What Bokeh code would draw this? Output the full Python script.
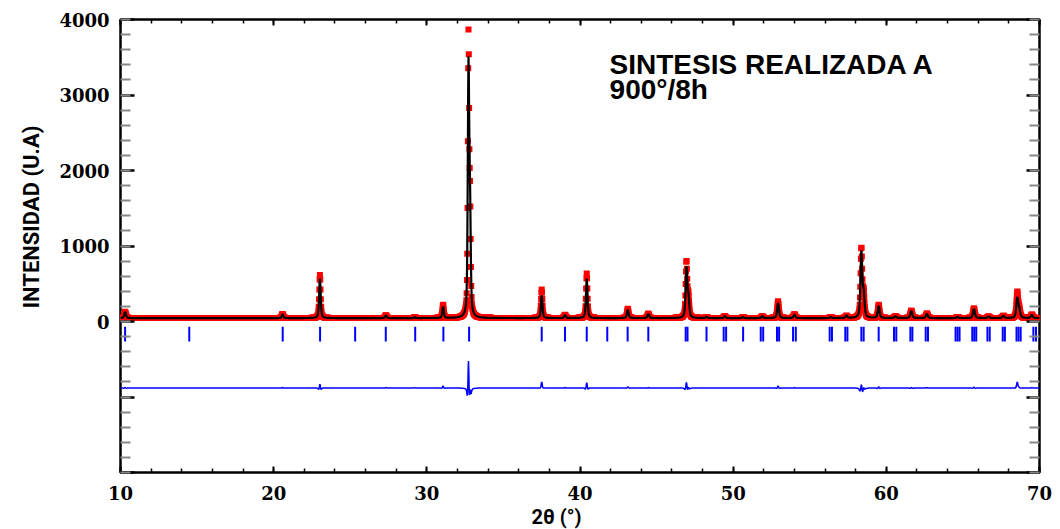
import numpy as np
from bokeh.plotting import figure
from bokeh.models import LinearAxis, FixedTicker, Range1d, ColumnDataSource, Title
from bokeh.embed import file_html
from bokeh.resources import INLINE
from bokeh.core.properties import value

# ---------------- data ----------------
# reflections of the refined profile: position (2theta), calculated and observed
# intensity above background, and peak width (FWHM, degrees)
peak_2theta = [10.30, 20.58, 23.02, 27.33, 29.22, 31.06, 32.72, 32.82, 37.50, 39.02,
               40.44, 43.12, 44.46, 46.95, 47.08, 48.26, 49.45, 50.65, 51.90, 52.93,
               54.00, 56.38, 57.40, 58.37, 58.52, 59.50, 60.60, 61.63, 62.65, 64.65,
               65.72, 66.67, 67.65, 68.55, 68.68, 69.50]
peak_calc = [80, 50, 520, 35, 10, 150, 3250, 1300, 300, 40,
             520, 110, 55, 660, 250, 15, 25, 15, 25, 200,
             45, 15, 30, 870, 300, 160, 25, 95, 55, 15,
             120, 20, 30, 260, 100, 40]
peak_obs = [85, 55, 570, 40, 12, 175, 3650, 1350, 380, 45,
            590, 125, 60, 740, 270, 15, 25, 15, 25, 225,
            50, 15, 30, 920, 320, 175, 25, 100, 60, 15,
            130, 20, 30, 340, 110, 45]
peak_fwhm = [0.14, 0.12, 0.12, 0.12, 0.12, 0.12, 0.11, 0.11, 0.12, 0.12,
             0.12, 0.13, 0.13, 0.13, 0.13, 0.13, 0.13, 0.13, 0.13, 0.14,
             0.14, 0.14, 0.14, 0.14, 0.14, 0.14, 0.15, 0.15, 0.15, 0.15,
             0.15, 0.15, 0.15, 0.15, 0.15, 0.15]
obs_width_ratio = 0.9
background = 45
step = 0.02
two_theta_start, two_theta_end = 10.0, 70.0

# Bragg reflection positions (2theta)
bragg_2theta = [10.30, 14.49, 20.59, 23.03, 25.32, 27.32, 29.24, 31.08, 32.76, 37.50,
                39.02, 40.44, 41.78, 43.11, 44.46, 46.90, 47.02, 48.26, 49.38, 49.54,
                50.65, 51.80, 51.96, 52.86, 53.00, 53.91, 54.09, 56.30, 56.45, 57.32,
                57.46, 58.37, 58.52, 59.50, 60.50, 60.65, 61.57, 61.70, 62.57, 62.72,
                64.52, 64.65, 64.78, 65.61, 65.74, 65.87, 66.60, 66.75, 67.60, 67.74,
                68.50, 68.63, 68.77, 69.60, 69.77]

diff_offset = -880

y_major = [-2000, -1000, 0, 1000, 2000, 3000, 4000]
y_minor = list(range(-2000, 4001, 200))
x_major = [10, 20, 30, 40, 50, 60, 70]
x_minor = list(range(10, 71, 2))

title_lines = ["SINTESIS REALIZADA A", "900°/8h"]
y_title = "INTENSIDAD (U.A)"
x_title = "2θ (°)"

# ---------------- profile ----------------
x = np.arange(two_theta_start, two_theta_end + 1e-6, step)


def profile(heights, ratio):
    y = np.full_like(x, float(background))
    for c, h, w in zip(peak_2theta, heights, peak_fwhm):
        d = (x - c) / (w * ratio)
        lor = 1.0 / (1.0 + 4.0 * d * d)
        gau = np.exp(-4.0 * np.log(2.0) * d * d)
        y += h * (0.5 * lor + 0.5 * gau)
    return y


y_calc = profile(peak_calc, 1.0)
y_obs = profile(peak_obs, obs_width_ratio)
y_diff = y_obs - y_calc + diff_offset

src = ColumnDataSource(dict(x=x, obs=y_obs, calc=y_calc, diff=y_diff))
bragg_src = ColumnDataSource(dict(x=bragg_2theta,
                                  y0=[-70] * len(bragg_2theta),
                                  y1=[-265] * len(bragg_2theta)))

# ---------------- figure ----------------
p = figure(width=1058, height=529, output_backend="svg", toolbar_location=None,
           x_range=Range1d(10, 70), y_range=Range1d(-2000, 4000),
           min_border_left=120, min_border_right=19, min_border_top=19,
           min_border_bottom=57)
p.grid.visible = False
p.outline_line_color = "black"
p.outline_line_width = 2.5
p.background_fill_color = "white"
p.border_fill_color = "white"

p.segment(x0="x", y0="y0", x1="x", y1="y1", source=bragg_src,
          line_color="#0000FF", line_width=2)
p.line("x", "diff", source=src, line_color="#0000FF", line_width=1.5)
p.scatter("x", "obs", source=src, marker="square", size=6,
          fill_color="#FF0000", line_color=None)
p.line("x", "calc", source=src, line_color="black", line_width=2.2)

p.text(x=[41.93, 41.93], y=[3400, 3079], text=title_lines,
       text_font=value("Liberation Sans"), text_font_style="bold",
       text_font_size="28px", text_color="black", text_baseline="middle",
       text_align="left")

# axes
ya = p.yaxis[0]
ya.ticker = FixedTicker(ticks=y_major, minor_ticks=y_minor)
ya.major_label_overrides = {-2000: "", -1000: ""}
ya.major_tick_in = 14
ya.major_tick_out = 0
ya.minor_tick_in = 10
ya.minor_tick_out = 0
ya.major_tick_line_width = 2.5
ya.minor_tick_line_width = 2
ya.major_tick_line_color = "black"
ya.minor_tick_line_color = "#888888"
ya.axis_line_color = None
ya.major_label_text_font = "DejaVu Serif"
ya.major_label_text_font_style = "bold"
ya.major_label_text_font_size = "18px"
ya.major_label_text_color = "black"
ya.major_label_standoff = 11

xa = p.xaxis[0]
xa.ticker = FixedTicker(ticks=x_major, minor_ticks=x_minor)
xa.major_tick_in = 6
xa.major_tick_out = 0
xa.minor_tick_in = 4
xa.minor_tick_out = 0
xa.major_tick_line_width = 2
xa.minor_tick_line_width = 1.5
xa.major_tick_line_color = "black"
xa.minor_tick_line_color = "black"
xa.axis_line_color = None
xa.major_label_text_font = "DejaVu Serif"
xa.major_label_text_font_style = "bold"
xa.major_label_text_font_size = "18px"
xa.major_label_text_color = "black"
xa.major_label_standoff = 13

ra = LinearAxis(ticker=FixedTicker(ticks=y_major, minor_ticks=y_minor),
                major_tick_in=13, major_tick_out=0, minor_tick_in=10, minor_tick_out=0,
                major_tick_line_width=2.5, minor_tick_line_width=2,
                major_tick_line_color="black", minor_tick_line_color="#888888",
                axis_line_color=None, major_label_standoff=0,
                major_label_overrides={t: "" for t in y_major})
p.add_layout(ra, "right")

ta = LinearAxis(ticker=FixedTicker(ticks=x_major, minor_ticks=x_minor),
                major_tick_in=6, major_tick_out=0, minor_tick_in=4, minor_tick_out=0,
                major_tick_line_width=2, minor_tick_line_width=1.5,
                major_tick_line_color="black", minor_tick_line_color="black",
                axis_line_color=None, major_label_standoff=0,
                major_label_overrides={t: "" for t in x_major})
p.add_layout(ta, "above")

# axis titles as side titles (offset moves them along the frame)
p.add_layout(Title(text=y_title, align="right", offset=106, standoff=26,
                   text_font="Roboto", text_font_style="bold",
                   text_font_size="22px", text_color="black"), "left")
p.add_layout(Title(text=x_title, align="left", offset=411, standoff=0,
                   text_font="Roboto", text_font_style="bold",
                   text_font_size="20px", text_color="black"), "below")

open("out.html", "w").write(file_html(p, INLINE))
